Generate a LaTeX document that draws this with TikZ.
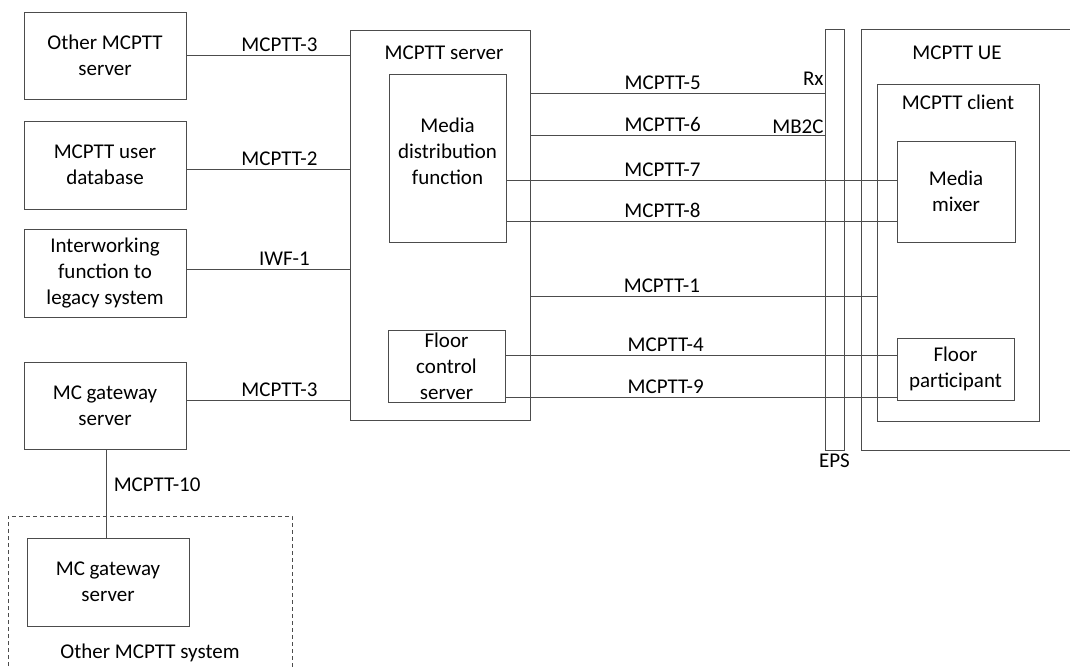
\documentclass[tikz,border=0pt]{standalone}
\usepackage{fontspec}
\setmainfont{Carlito}
\usetikzlibrary{positioning}

\begin{document}
\begin{tikzpicture}[x=1pt, y=-1pt,
  every node/.style={font=\fontsize{21}{26}\selectfont},
  box/.style={draw=black!70, line width=0.9pt, align=center, inner sep=0pt, outer sep=0pt},
  conn/.style={draw=black!70, line width=0.9pt}]
  \useasboundingbox (0,0) rectangle (1070,668);

  % left column
  \node[box, minimum width=162pt, minimum height=87pt] (othsrv) at (105,55.5) {Other MCPTT\\server};
  \node[box, minimum width=162pt, minimum height=88pt] (userdb) at (105,165) {MCPTT user\\database};
  \node[box, minimum width=162pt, minimum height=88pt] (iwf) at (105,273) {Interworking\\function to\\legacy system};
  \node[box, minimum width=162pt, minimum height=87pt] (gwsrv) at (105,405.5) {MC gateway\\server};
  \node[box, minimum width=162pt, minimum height=88pt] (gwsrvb) at (108,582) {MC gateway\\server};
  \draw[conn, dash pattern=on 4pt off 3pt] (8,680) -- (8,516) -- (292,516) -- (292,680);
  \node (othsys) at (150,653) {Other MCPTT system};

  % MCPTT server
  \node[box, minimum width=180pt, minimum height=390pt] (srv) at (440,225) {};
  \node (srvlbl) at (444,53) {MCPTT server};
  \node[box, minimum width=117pt, minimum height=168pt] (mdf) at (447.5,158) {Media\\distribution\\function\\[-12pt]};
  \node[box, minimum width=117pt, minimum height=72pt] (fcs) at (446.5,366) {Floor\\control\\server};

  % EPS and UE
  \node[box, minimum width=19pt, minimum height=421pt] (eps) at (834.5,239.5) {};
  \node[below=0pt of eps] (epslbl) {EPS};
  \node[box, minimum width=229pt, minimum height=421pt] (ue) at (975.5,239.5) {};
  \node (uelbl) at (957,53) {MCPTT UE};
  \node[box, minimum width=162pt, minimum height=337pt] (client) at (958,252.5) {};
  \node (clientlbl) at (958,102) {MCPTT client};
  \node[box, minimum width=118pt, minimum height=101pt] (mixer) at (956,191.5) {Media\\mixer};
  \node[box, minimum width=117pt, minimum height=62pt] (flpart) at (955.5,369) {Floor\\participant};

  % reference points
  \draw[conn] (othsrv.east) -- node[above, pos=0.57] {MCPTT-3} (othsrv.east -| srv.west);
  \draw[conn] ([yshift=-4pt]userdb.east) -- node[above, pos=0.57] {MCPTT-2} ([yshift=-4pt]userdb.east -| srv.west);
  \draw[conn] ([yshift=4pt]iwf.east) -- node[above, pos=0.6] {IWF-1} ([yshift=4pt]iwf.east -| srv.west);
  \draw[conn] ([yshift=5.5pt]gwsrv.east) -- node[above, pos=0.57] {MCPTT-3} ([yshift=5.5pt]gwsrv.east -| srv.west);
  \draw[conn] ([xshift=1pt]gwsrv.south) -- node[right, pos=0.4, xshift=4pt] {MCPTT-10} ([xshift=1pt]gwsrv.south |- gwsrvb.north);

  \draw[conn] (srv.east |- 0,93) -- node[above, pos=0.45] {MCPTT-5}
    node[pos=1, above left, inner sep=1pt, yshift=6pt] {Rx} (eps.west |- 0,93);
  \draw[conn] (srv.east |- 0,135) -- node[above, pos=0.45] {MCPTT-6}
    node[pos=1, above left, inner sep=1pt] {MB2C} (eps.west |- 0,135);
  \draw[conn] (mdf.east |- 0,180) -- node[above, pos=0.4] {MCPTT-7} (mixer.west |- 0,180);
  \draw[conn] (mdf.east |- 0,221) -- node[above, pos=0.4] {MCPTT-8} (mixer.west |- 0,221);
  \draw[conn] (srv.east |- 0,296) -- node[above, pos=0.38] {MCPTT-1} (client.west |- 0,296);
  \draw[conn] (fcs.east |- 0,355) -- node[above, pos=0.41] {MCPTT-4} (flpart.west |- 0,355);
  \draw[conn] (fcs.east |- 0,397) -- node[above, pos=0.41] {MCPTT-9} (flpart.west |- 0,397);
\end{tikzpicture}
\end{document}
